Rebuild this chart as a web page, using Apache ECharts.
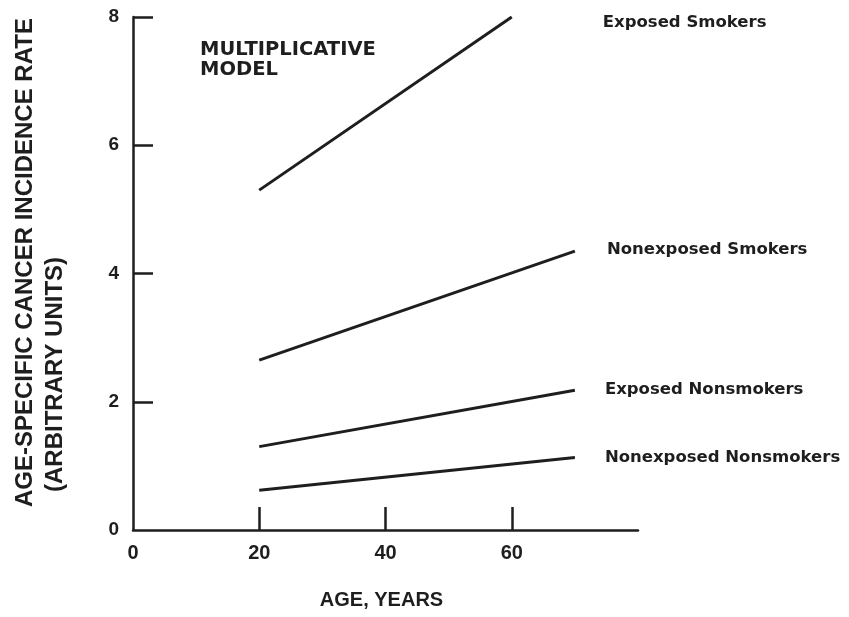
<!DOCTYPE html>
<html>
<head>
<meta charset="utf-8">
<script src="https://cdn.jsdelivr.net/npm/echarts@6/dist/echarts.min.js"></script>
<style>
  html, body { margin: 0; padding: 0; background: #fff; }
  #chart { width: 849px; height: 617px; }
</style>
</head>
<body>
<div id="chart"></div>
<script>
// Age-specific cancer incidence under a multiplicative model
const ages = [20, 70];
const exposedSmokersAges = [20, 60];
const exposedSmokers = [5.3, 8.0];
const nonexposedSmokers = [2.65, 4.35];
const exposedNonsmokers = [1.3, 2.18];
const nonexposedNonsmokers = [0.62, 1.13];

const seriesNames = ['Exposed Smokers', 'Nonexposed Smokers', 'Exposed Nonsmokers', 'Nonexposed Nonsmokers'];
const xTickValues = [20, 40, 60];
const xLabelValues = [0, 20, 40, 60];
const yTickValues = [2, 4, 6, 8];
const yLabelValues = [0, 2, 4, 6, 8];

const ink = '#1e1e1e';
const font = '"Liberation Sans", Arial, sans-serif';
const labelFont = '"DejaVu Sans", Verdana, sans-serif';

function pairs(xs, ys) { return xs.map((x, i) => [x, ys[i]]); }

function lineSeries(name, data, offset) {
  return {
    name: name,
    type: 'line',
    data: data,
    symbol: 'none',
    lineStyle: { color: ink, width: 3 },
    silent: true,
    endLabel: {
      show: true,
      formatter: name,
      offset: offset,
      color: ink,
      fontFamily: labelFont,
      fontWeight: 'bold',
      fontSize: 16.5
    }
  };
}

const chart = echarts.init(document.getElementById('chart'), null, { renderer: 'canvas' });
chart.setOption({
  animation: false,
  backgroundColor: '#fff',
  grid: { left: 133, right: 211, top: 17, bottom: 87, containLabel: false, outerBoundsMode: 'none' },
  xAxis: {
    type: 'value',
    min: 0, max: 80, interval: 20,
    name: 'AGE, YEARS',
    nameLocation: 'middle',
    nameGap: 60,
    nameTextStyle: { color: ink, fontFamily: font, fontWeight: 'bold', fontSize: 20, padding: [0, 8, 0, 0] },
    axisLine: { lineStyle: { color: ink, width: 2.5 } },
    axisTick: { show: true, inside: true, length: 23, lineStyle: { color: ink, width: 2.5 }, customValues: xTickValues },
    axisLabel: { color: ink, fontFamily: font, fontWeight: 'bold', fontSize: 20, margin: 13, customValues: xLabelValues },
    splitLine: { show: false }
  },
  yAxis: {
    type: 'value',
    min: 0, max: 8, interval: 2,
    axisLine: { show: true, lineStyle: { color: ink, width: 2.5 } },
    axisTick: { show: true, inside: true, length: 20, lineStyle: { color: ink, width: 2.5 }, customValues: yTickValues },
    axisLabel: { color: ink, fontFamily: font, fontWeight: 'bold', fontSize: 19, margin: 14, customValues: yLabelValues },
    splitLine: { show: false }
  },
  graphic: [
    {
      type: 'text', left: 200, top: 40,
      style: { text: 'MULTIPLICATIVE\nMODEL', fill: ink, font: 'bold 19.5px ' + labelFont, lineHeight: 20 }
    },
    {
      type: 'text', x: 25, y: 507, rotation: Math.PI / 2,
      style: { text: 'AGE-SPECIFIC CANCER INCIDENCE RATE', fill: ink, font: 'bold 24px ' + font, textAlign: 'left', textVerticalAlign: 'middle' }
    },
    {
      type: 'text', x: 55, y: 492, rotation: Math.PI / 2,
      style: { text: '(ARBITRARY UNITS)', fill: ink, font: 'bold 24px ' + font, textAlign: 'left', textVerticalAlign: 'middle' }
    }
  ],
  series: [
    lineSeries(seriesNames[0], pairs(exposedSmokersAges, exposedSmokers), [83, 6]),
    lineSeries(seriesNames[1], pairs(ages, nonexposedSmokers), [24, -1]),
    lineSeries(seriesNames[2], pairs(ages, exposedNonsmokers), [22, 0]),
    lineSeries(seriesNames[3], pairs(ages, nonexposedNonsmokers), [22, 0])
  ]
});
</script>
</body>
</html>
